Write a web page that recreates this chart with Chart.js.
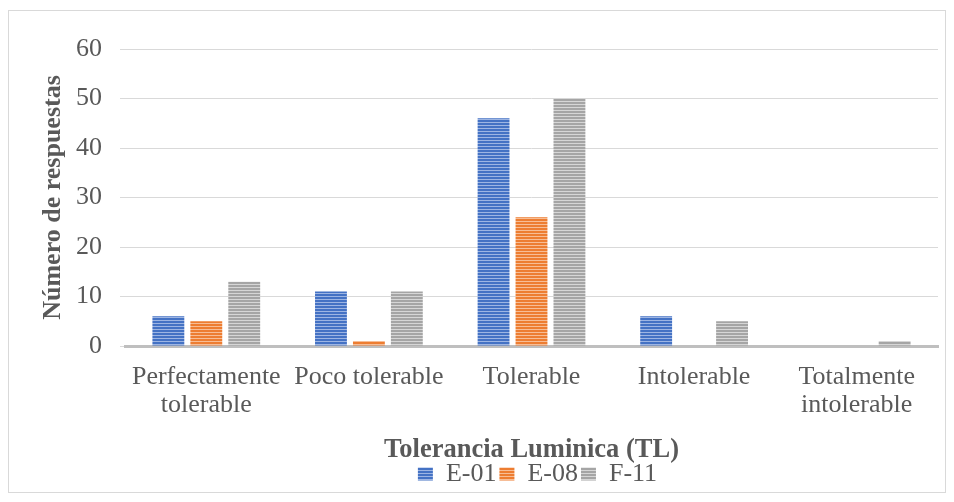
<!DOCTYPE html>
<html>
<head>
<meta charset="utf-8">
<script src="https://cdn.jsdelivr.net/npm/chart.js@4"></script>
<style>
  html, body { margin: 0; padding: 0; background: #fff; }
  #wrap { width: 954px; height: 502px; position: relative; }
</style>
</head>
<body>
<div id="wrap"><canvas id="myChart" width="954" height="502"></canvas></div>
<script>
const categories = [["Perfectamente", "tolerable"], "Poco tolerable", "Tolerable", "Intolerable", ["Totalmente", "intolerable"]];
const seriesNames = ["E-01", "E-08", "F-11"];
const e01Values = [6, 11, 46, 6, 0];
const e08Values = [5, 1, 26, 0, 0];
const f11Values = [13, 11, 50, 5, 1];
const yTicks = [0, 10, 20, 30, 40, 50, 60];

const fontFamily = "'Liberation Serif', 'Times New Roman', serif";
const textColor = "#595959";

// striped fill like the horizontal-line pattern in the original
const makeStripes = (dark, light) => {
    const c = document.createElement("canvas");
    c.width = 4;
    c.height = 3;
    const g = c.getContext("2d");
    g.fillStyle = light;
    g.fillRect(0, 0, 4, 3);
    g.fillStyle = dark;
    g.fillRect(0, 0, 4, 2);
    return g.createPattern(c, "repeat");
};

const bluePattern = makeStripes("#4472c4", "#9db5e3");
const orangePattern = makeStripes("#ed7d31", "#f7bd95");
const grayPattern = makeStripes("#a5a5a5", "#d6d6d6");

const frame = {
    id: "frame",
    beforeDraw(chart) {
        const ctx = chart.ctx;
        ctx.save();
        ctx.strokeStyle = "#d9d9d9";
        ctx.lineWidth = 1;
        ctx.strokeRect(8.5, 10.5, 937, 482);
        ctx.restore();
    }
};

// center the legend under the plot area instead of the whole canvas
const legendShift = {
    id: "legendShift",
    afterLayout(chart) {
        const lg = chart.legend;
        const dx = (chart.chartArea.left + chart.chartArea.right) / 2 + 6 - (lg.left + lg.right) / 2;
        lg.left += dx;
        lg.right += dx;
    }
};

const ctx = document.getElementById("myChart");

new Chart(ctx, {
    type: "bar",
    data: {
        labels: categories,
        datasets: [
            { label: seriesNames[0], data: e01Values, backgroundColor: bluePattern },
            { label: seriesNames[1], data: e08Values, backgroundColor: orangePattern },
            { label: seriesNames[2], data: f11Values, backgroundColor: grayPattern }
        ]
    },
    options: {
        responsive: false,
        animation: false,
        devicePixelRatio: 1,
        categoryPercentage: 0.70,
        barPercentage: 0.84,
        layout: { padding: { top: 49, left: 38, right: 16, bottom: 5 } },
        plugins: {
            legend: {
                position: "bottom",
                labels: {
                    boxWidth: 15,
                    boxHeight: 13,
                    padding: 3,
                    color: textColor,
                    font: { family: fontFamily, size: 26 }
                }
            },
            tooltip: { enabled: false }
        },
        scales: {
            x: {
                afterFit: (scale) => { scale.height = 112; },
                grid: { display: false },
                border: { display: true, color: "#bfbfbf", width: 3 },
                ticks: {
                    color: textColor,
                    padding: 9,
                    maxRotation: 0,
                    autoSkip: false,
                    font: { family: fontFamily, size: 26, lineHeight: 1.07 }
                },
                title: {
                    display: true,
                    text: "Tolerancia Luminica (TL)",
                    color: textColor,
                    padding: { top: 0, bottom: -8 },
                    font: { family: fontFamily, size: 26.5, weight: "bold" }
                }
            },
            y: {
                min: 0,
                max: 60,
                afterFit: (scale) => { scale.width = 87; },
                afterBuildTicks: (scale) => {
                    scale.ticks = yTicks.map(v => ({ value: v }));
                },
                grid: { color: "#d9d9d9", lineWidth: 1, tickLength: 5 },
                border: { display: false },
                ticks: {
                    color: textColor,
                    padding: 18,
                    font: { family: fontFamily, size: 26 }
                },
                title: {
                    display: true,
                    text: "Número de respuestas",
                    color: textColor,
                    padding: { top: 0, bottom: 0 },
                    font: { family: fontFamily, size: 26, weight: "bold" }
                }
            }
        }
    },
    plugins: [frame, legendShift]
});
</script>
</body>
</html>
